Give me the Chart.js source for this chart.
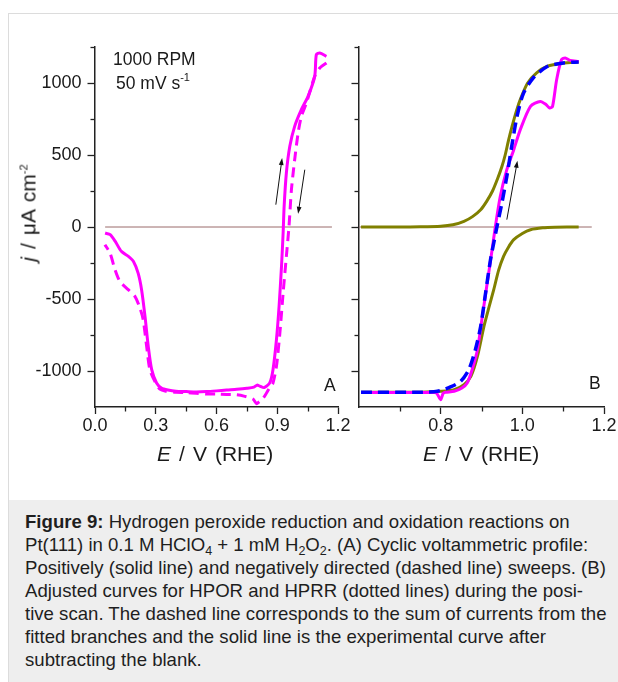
<!DOCTYPE html>
<html><head><meta charset="utf-8">
<script src="https://cdn.jsdelivr.net/npm/chart.js@4.4.1/dist/chart.umd.min.js"></script>
<style>
html,body{margin:0;padding:0;background:#fff;width:618px;height:682px;overflow:hidden;font-family:"Liberation Sans",Arial,sans-serif;}
#frame{position:absolute;left:8px;top:13px;width:700px;height:700px;border:1px solid #dcdcdc;box-sizing:border-box;}
#cap{position:absolute;left:9px;top:500px;width:700px;height:200px;background:#eeeeee;}
canvas{position:absolute;left:0;top:0;}
.t{position:absolute;color:#1a1a1a;white-space:nowrap;line-height:1;}
.t sup{font-size:11px;vertical-align:0;position:relative;top:-8px;line-height:0;}
#captext{position:absolute;left:25px;top:510px;font-size:18.6px;line-height:23px;color:#1e1e1e;white-space:nowrap;}
#captext sub{font-size:12.5px;line-height:0;vertical-align:-4px;}
</style></head>
<body>
<div id="frame"></div>
<div id="cap"></div>
<canvas id="cA" width="618" height="470"></canvas>
<canvas id="cB" width="618" height="470"></canvas>

<div class="t" style="left:113px;top:51px;font-size:17.5px;">1000 RPM</div>
<div class="t" style="left:116px;top:75.3px;font-size:17.5px;">50 mV s<sup>-1</sup></div>
<div class="t" style="left:324px;top:377px;font-size:17.5px;">A</div>
<div class="t" style="left:589px;top:375px;font-size:17.5px;">B</div>
<div class="t" style="left:157px;top:443px;font-size:21px;word-spacing:2.2px;"><i>E</i> / V (RHE)</div>
<div class="t" style="left:423px;top:443px;font-size:21px;word-spacing:2.2px;"><i>E</i> / V (RHE)</div>
<div class="t" style="left:28px;top:213px;font-size:21px;word-spacing:2.2px;transform:translate(-50%,-50%) rotate(-90deg);"><i>j</i> / μA cm<sup>-2</sup></div>

<div id="captext"><b>Figure 9:</b> Hydrogen peroxide reduction and oxidation reactions on<br>Pt(111) in 0.1 M HClO<sub>4</sub> + 1 mM H<sub>2</sub>O<sub>2</sub>. (A) Cyclic voltammetric profile:<br>Positively (solid line) and negatively directed (dashed line) sweeps. (B)<br>Adjusted curves for HPOR and HPRR (dotted lines) during the posi-<br>tive scan. The dashed line corresponds to the sum of currents from the<br>fitted branches and the solid line is the experimental curve after<br>subtracting the blank.</div>

<script>
// ---------- tick values ----------
const ticksAx = [0, 0.3, 0.6, 0.9, 1.2];
const minorAx = [0.15, 0.45, 0.75, 1.05];
const ticksBx = [0.8, 1.0, 1.2];
const minorBx = [0.7, 0.9, 1.1];
const ticksY = [-1000, -500, 0, 500, 1000];
const minorY = [-750, -250, 250, 750, 1250];

// ---------- Panel A: cyclic voltammogram ----------
// positive-going sweep (solid)
const aPosE = [0.05,0.075,0.10,0.13,0.165,0.19,0.213,0.23,0.247,0.263,0.28,0.304,0.328,0.36,0.40,0.45,0.50,0.55,0.60,0.65,0.70,0.75,0.785,0.80,0.814,0.835,0.863,0.879,0.896,0.909,0.921,0.929,0.934,0.945,0.962,0.986,1.019,1.052,1.085,1.093,1.11,1.143];
const aPosJ = [-42,-53,-100,-169,-204,-239,-320,-435,-621,-829,-991,-1083,-1118,-1132,-1141,-1143,-1145,-1143,-1138,-1132,-1127,-1120,-1112,-1098,-1105,-1115,-1083,-991,-783,-551,-274,-42,143,375,560,699,815,907,1046,1197,1208,1185];
// negative-going sweep (dashed)
const aNegE = [1.143,1.11,1.085,1.044,1.019,1.003,0.986,0.970,0.958,0.945,0.929,0.913,0.896,0.879,0.865,0.847,0.83,0.81,0.798,0.78,0.74,0.70,0.65,0.60,0.55,0.50,0.45,0.40,0.35,0.32,0.30,0.271,0.255,0.238,0.222,0.197,0.164,0.123,0.099,0.074,0.049];
const aNegJ = [1139,1104,1046,861,768,653,467,259,4,-204,-458,-736,-968,-1083,-1110,-1153,-1190,-1215,-1227,-1195,-1176,-1165,-1163,-1160,-1160,-1155,-1150,-1148,-1140,-1125,-1085,-991,-829,-644,-563,-482,-435,-378,-297,-181,-123];
const aZeroE = [0.05, 1.17];
const aZeroJ = [0, 0];

// ---------- Panel B: fits ----------
const bExpE = [0.605,0.65,0.70,0.75,0.78,0.79,0.80,0.806,0.812,0.833,0.852,0.865,0.877,0.890,0.902,0.914,0.926,0.934,0.946,0.962,0.979,0.995,1.020,1.044,1.058,1.067,1.074,1.084,1.096,1.105,1.117,1.138];
const bExpJ = [-1150,-1150,-1150,-1150,-1150,-1153,-1199,-1155,-1148,-1141,-1118,-1083,-991,-852,-621,-389,-158,4,213,398,537,676,838,872,850,826,838,1023,1162,1174,1157,1150];
const bHporE = [0.605,0.70,0.75,0.80,0.83,0.857,0.878,0.898,0.913,0.927,0.940,0.950,0.958,0.966,0.975,0.986,0.997,1.013,1.035,1.060,1.10,1.138];
const bHporJ = [0,0,1,5,15,39,72,120,180,250,340,420,500,600,700,810,900,1000,1070,1115,1139,1146];
const bHprrE = [0.605,0.70,0.75,0.80,0.833,0.857,0.874,0.890,0.906,0.918,0.930,0.942,0.954,0.966,0.979,1.000,1.020,1.05,1.08,1.138];
const bHprrJ = [-1148,-1148,-1147,-1141,-1130,-1095,-1038,-899,-690,-560,-435,-300,-204,-140,-88,-45,-19,-6,-2,0];
const bSumE = [0.605,0.75,0.792,0.824,0.849,0.869,0.885,0.898,0.910,0.922,0.930,0.938,0.950,0.962,0.974,0.987,1.003,1.028,1.060,1.101,1.138];
const bSumJ = [-1148,-1147,-1141,-1111,-1072,-991,-852,-690,-458,-227,-111,4,167,351,560,768,930,1040,1113,1139,1146];
const bZeroE = [0.6, 1.17];
const bZeroJ = [0, 0];

// ---------- annotations (arrows, in data units) ----------
const arrowsA = [{e0:0.893,j0:155,e1:0.924,j1:479},{e0:1.036,j0:398,e1:1.003,j1:92}];
const arrowsB = [{e0:0.962,j0:51,e1:0.988,j1:460}];

const pts = (xs, ys) => xs.map((x, i) => ({x: x, y: ys[i]}));
const FONT = '"Liberation Sans", Arial, sans-serif';
const AX = '#222';

const minorTicks = {
  id: 'minorTicks',
  afterDraw(chart, args, o) {
    const ctx = chart.ctx, xs = chart.scales.x, ys = chart.scales.y;
    ctx.save(); ctx.strokeStyle = AX; ctx.lineWidth = 1.3;
    (o.x || []).forEach(v => { const p = Math.round(xs.getPixelForValue(v)) + 0.5; ctx.beginPath(); ctx.moveTo(p, xs.top); ctx.lineTo(p, xs.top + 4.5); ctx.stroke(); });
    (o.y || []).forEach(v => { const p = Math.round(ys.getPixelForValue(v)) + 0.5; ctx.beginPath(); ctx.moveTo(ys.right, p); ctx.lineTo(ys.right - 4.5, p); ctx.stroke(); });
    ctx.restore();
  }
};
const arrows = {
  id: 'arrows',
  afterDatasetsDraw(chart, args, o) {
    const ctx = chart.ctx, xs = chart.scales.x, ys = chart.scales.y;
    ctx.save(); ctx.strokeStyle = '#111'; ctx.fillStyle = '#111'; ctx.lineWidth = 1;
    (o.list || []).forEach(a => {
      const x0 = xs.getPixelForValue(a.e0), y0 = ys.getPixelForValue(a.j0);
      const x1 = xs.getPixelForValue(a.e1), y1 = ys.getPixelForValue(a.j1);
      const ang = Math.atan2(y1 - y0, x1 - x0), L = 7, W = 2.4;
      ctx.beginPath(); ctx.moveTo(x0, y0); ctx.lineTo(x1 - Math.cos(ang) * L * 0.6, y1 - Math.sin(ang) * L * 0.6); ctx.stroke();
      ctx.beginPath(); ctx.moveTo(x1, y1);
      ctx.lineTo(x1 - Math.cos(ang) * L - Math.sin(ang) * W, y1 - Math.sin(ang) * L + Math.cos(ang) * W);
      ctx.lineTo(x1 - Math.cos(ang) * L + Math.sin(ang) * W, y1 - Math.sin(ang) * L - Math.cos(ang) * W);
      ctx.closePath(); ctx.fill();
    });
    ctx.restore();
  }
};

function options(p) {
  const H = 470, xH = 30;
  return {
    responsive: false, animation: false, devicePixelRatio: 1,
    layout: {padding: {left: p.left - p.yW, right: 618 - p.right, top: 47, bottom: H - 407 - xH}},
    plugins: {legend: {display: false}, tooltip: {enabled: false},
              minorTicks: {x: p.minorX, y: minorY}, arrows: {list: p.arrows}},
    scales: {
      x: {type: 'linear', bounds: 'data', min: p.xmin, max: 1.2,
          afterBuildTicks: s => { s.ticks = p.ticksX.map(v => ({value: v})); },
          afterFit: s => { s.height = xH; },
          border: {display: true, color: AX, width: 1.5},
          grid: {display: true, drawOnChartArea: false, drawTicks: true, tickLength: 7, tickColor: AX, tickWidth: 1.3},
          ticks: {font: {family: FONT, size: 18}, color: '#1a1a1a', padding: 1, maxRotation: 0, autoSkip: false,
                  callback: v => Number(v).toFixed(1)}},
      y: {type: 'linear', bounds: 'data', min: -1250, max: 1250,
          afterBuildTicks: s => { s.ticks = ticksY.map(v => ({value: v})); },
          afterFit: s => { s.width = p.yW; },
          border: {display: true, color: AX, width: 1.5},
          grid: {display: true, drawOnChartArea: false, drawTicks: true, tickLength: 7.5, tickColor: AX, tickWidth: 1.3},
          ticks: {display: p.yLabels, font: {family: FONT, size: 18}, color: '#1a1a1a', padding: 6, autoSkip: false,
                  callback: v => String(v)}}
    }
  };
}

const line = (data, color, w, dash) => ({data: data, showLine: true, borderColor: color, borderWidth: w,
  borderDash: dash || [], pointRadius: 0, fill: false, tension: 0.25});

new Chart(document.getElementById('cA'), {
  type: 'scatter',
  data: {datasets: [
    line(pts(aPosE, aPosJ), '#ff00ff', 3),
    line(pts(aNegE, aNegJ), '#ff00ff', 3, [10, 6]),
    Object.assign(line(pts(aZeroE, aZeroJ), '#9a6a6a', 1), {tension: 0})
  ]},
  options: options({left: 95, right: 338, yW: 60, xmin: 0, ticksX: ticksAx, minorX: minorAx, arrows: arrowsA, yLabels: true}),
  plugins: [minorTicks, arrows]
});

new Chart(document.getElementById('cB'), {
  type: 'scatter',
  data: {datasets: [
    line(pts(bSumE, bSumJ), '#0000ff', 3.5, [11, 6]),
    line(pts(bExpE, bExpJ), '#ff00ff', 3),
    line(pts(bHporE, bHporJ), '#808000', 3),
    line(pts(bHprrE, bHprrJ), '#808000', 3),
    Object.assign(line(pts(bZeroE, bZeroJ), '#9a6a6a', 1), {tension: 0})
  ]},
  options: options({left: 359, right: 604, yW: 20, xmin: 0.6, ticksX: ticksBx, minorX: minorBx, arrows: arrowsB, yLabels: false}),
  plugins: [minorTicks, arrows]
});
</script>
</body></html>
